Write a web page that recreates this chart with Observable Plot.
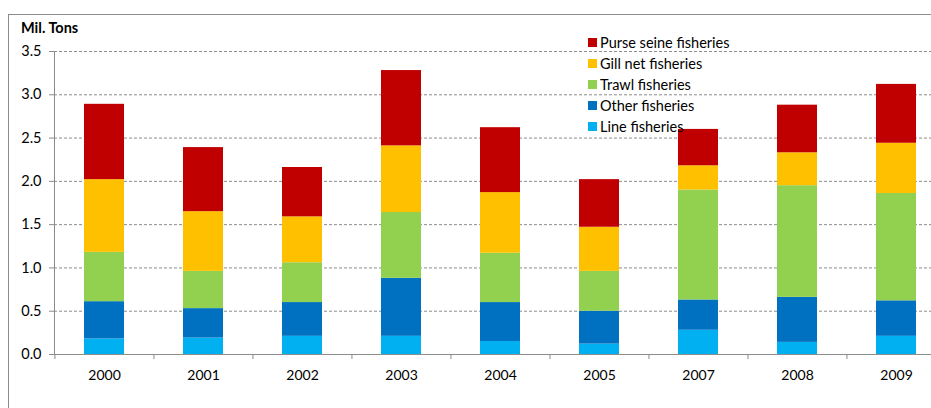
<!DOCTYPE html>
<html>
<head>
<meta charset="utf-8">
<script src="https://cdn.jsdelivr.net/npm/d3@7"></script>
<script src="https://cdn.jsdelivr.net/npm/@observablehq/plot@0.6"></script>
<style>
  html, body { margin: 0; padding: 0; background: #fff; }
  #wrap { position: relative; width: 931px; height: 408px; overflow: hidden; font-family: Lato, "Open Sans", sans-serif; }
  #border { position: absolute; left: 8px; top: 14px; width: 940px; height: 420px; border: 1px solid #8c8c8c; box-sizing: border-box; pointer-events: none; }
  #title { position: absolute; left: 21px; top: 19px; font-weight: bold; font-size: 14.5px; color: #000; }
  #legend { position: absolute; left: 588px; top: 32px; font-size: 14.5px; color: #000; }
  #legend .row { height: 21px; display: flex; align-items: center; white-space: nowrap; }
  #legend .sw { width: 9px; height: 9px; margin-right: 3px; }
</style>
</head>
<body>
<div id="wrap">
  <div id="chart"></div>
  <div id="border"></div>
  <div id="title">Mil. Tons</div>
  <div id="legend"></div>
</div>
<script>
const years = ["2000", "2001", "2002", "2003", "2004", "2005", "2007", "2008", "2009"];
const series = ["Line fisheries", "Other fisheries", "Trawl fisheries", "Gill net fisheries", "Purse seine fisheries"];
const colors = ["#00B0F0", "#0070C0", "#92D050", "#FFC000", "#C00000"];
const lineFish   = [0.18, 0.19, 0.21, 0.21, 0.15, 0.12, 0.28, 0.14, 0.21];
const otherFish  = [0.43, 0.34, 0.39, 0.67, 0.45, 0.38, 0.35, 0.52, 0.41];
const trawlFish  = [0.57, 0.43, 0.46, 0.76, 0.57, 0.46, 1.27, 1.29, 1.24];
const gillFish   = [0.84, 0.69, 0.53, 0.77, 0.70, 0.51, 0.28, 0.38, 0.58];
const purseFish  = [0.87, 0.74, 0.57, 0.87, 0.75, 0.55, 0.42, 0.55, 0.68];
const yTicks = [0, 0.5, 1.0, 1.5, 2.0, 2.5, 3.0, 3.5];

const valueLists = [lineFish, otherFish, trawlFish, gillFish, purseFish];
const data = [];
series.forEach((s, si) => {
  years.forEach((y, yi) => data.push({year: y, series: s, value: valueLists[si][yi]}));
});

const W = 931, H = 408;
const x0 = 54, x1 = 946;
const step = (x1 - x0) / years.length;

const plot = Plot.plot({
  width: W,
  height: H,
  marginLeft: 54,
  marginRight: 0,
  marginTop: 51,
  marginBottom: 54,
  style: {fontFamily: "Lato, 'Open Sans', sans-serif", fontSize: "14px", color: "#000", background: "transparent"},
  x: {type: "band", domain: years, range: [x0, x1], paddingInner: 0.6, paddingOuter: 0.3, label: null},
  y: {domain: [0, 3.5], label: null},
  color: {domain: series, range: colors},
  marks: [
    Plot.gridY(yTicks.filter(d => d > 0), {stroke: "#8c8c8c", strokeOpacity: 1, strokeDasharray: "3,2"}),
    Plot.barY(data, Plot.stackY({x: "year", y: "value", fill: "series", order: series})),
    Plot.frame({anchor: "left", stroke: "#8c8c8c"}),
    Plot.frame({anchor: "bottom", stroke: "#8c8c8c"}),
    Plot.axisY({ticks: yTicks, tickFormat: d3.format(".1f"), tickSize: 5, tickPadding: 8, stroke: "#8c8c8c", fontSize: 14.5, label: null}),
    Plot.axisX({tickSize: 5, text: null, dx: -step / 2, stroke: "#8c8c8c", label: null}),
    Plot.axisX({tickSize: 0, tickPadding: 16, fontSize: 14, label: null})
  ]
});
document.getElementById("chart").appendChild(plot);

const legend = document.getElementById("legend");
[...series].reverse().forEach((s) => {
  const i = series.indexOf(s);
  const row = document.createElement("div");
  row.className = "row";
  row.innerHTML = `<div class="sw" style="background:${colors[i]}"></div><span>${s}</span>`;
  legend.appendChild(row);
});
</script>
</body>
</html>
